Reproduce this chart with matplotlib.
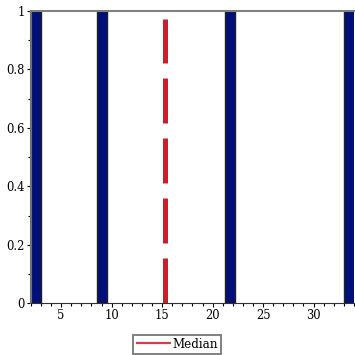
import matplotlib
matplotlib.use('Agg')
import matplotlib.pyplot as plt
from matplotlib.ticker import MultipleLocator

# data
bar_left = [2.0, 8.5, 21.2, 33.0]
bar_height = [1, 1, 1, 1]
bar_width = 1.0
median_x = 15.25
median_top = 0.973

plt.rcParams['font.family'] = 'DejaVu Serif'
plt.rcParams['font.size'] = 8.3

fig = plt.figure(figsize=(3.55, 3.55), dpi=100)
ax = fig.add_axes([0.087, 0.146, 0.910, 0.823])

ax.bar(bar_left, bar_height, width=bar_width, align='edge',
       color='#00107a', edgecolor='#202020', linewidth=1)
ax.plot([median_x, median_x], [0, median_top], color='#c8202a', lw=3.6,
        dashes=(9, 3), solid_capstyle='butt', dash_capstyle='butt',
        label='Median')

ax.set_xlim(2, 34)
ax.set_ylim(0, 1)
ax.xaxis.set_major_locator(MultipleLocator(5))
ax.xaxis.set_minor_locator(MultipleLocator(1))
ax.yaxis.set_minor_locator(MultipleLocator(0.1))
ax.set_yticks([0, 0.2, 0.4, 0.6, 0.8, 1])
ax.set_yticklabels(['0', '0.2', '0.4', '0.6', '0.8', '1'])

ax.spines['right'].set_visible(False)
ax.spines['top'].set_color('#808080')
ax.spines['top'].set_linewidth(1.5)
ax.spines['left'].set_color('#707070')
ax.spines['left'].set_linewidth(1.5)
ax.spines['bottom'].set_color('#303030')
ax.tick_params(which='major', length=3, width=0.8, pad=1.5)
ax.tick_params(which='minor', length=2, width=0.8)

leg = ax.legend(loc='center', bbox_to_anchor=(0.4536, -0.140),
                frameon=True, fancybox=False, handlelength=2.9,
                borderpad=0.25, handletextpad=0.15, borderaxespad=0,
                fontsize=8.6)
leg.get_frame().set_edgecolor('#606060')
leg.get_frame().set_linewidth(1.4)
handle = leg.get_lines()[0]
handle.set_linestyle('-')
handle.set_linewidth(1.6)
handle.set_color('#d04048')

fig.savefig('out.png', dpi=100)
